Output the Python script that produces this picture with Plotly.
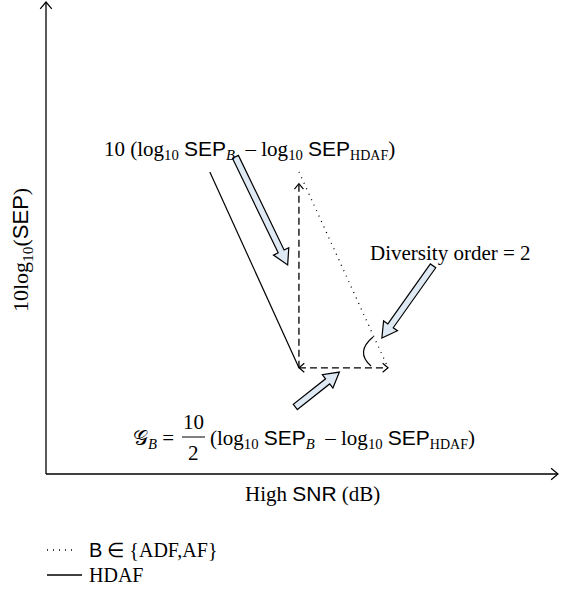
import math
import plotly.graph_objects as go

# ---------------- data (schematic values of the drawing) ----------------
hdaf_snr = [32.0, 49.4]          # HDAF curve: SNR (dB)
hdaf_sep = [64.0, 22.5]          # HDAF curve: 10log10(SEP)
b_snr = [49.4, 66.8]             # B in {ADF, AF} curve
b_sep = [64.0, 22.5]
gain_top = 61.5                  # top of the vertical SEP-difference arrow
legend_labels = ["<span style='font-family:Liberation Sans'>B</span> \u2208 {ADF,AF}", "HDAF"]
axis_max = [100.0, 100.0]

# callout (hollow) arrows: tail -> tip, in drawing units
call_tails = [(37.0, 67.2), (75.6, 44.1), (48.7, 14.2)]
call_tips = [(47.2, 44.3), (65.6, 28.8), (57.3, 21.6)]

# ---------------- layout helpers ----------------
W, H = 568, 590
X0PX, X1PX, Y0PX, Y1PX = 46, 558, 474, 2
SX = (X1PX - X0PX) / axis_max[0]
SY = (Y0PX - Y1PX) / axis_max[1]
xrange_ = [-X0PX / SX, (W - X0PX) / SX]
yrange_ = [-(H - Y0PX) / SY, Y0PX / SY]


def px2d(px, py):
    return ((px - X0PX) / SX, (Y0PX - py) / SY)


def d2px(x, y):
    return (X0PX + x * SX, Y0PX - y * SY)


def path_from_px(pts, close=False):
    s = ""
    for i, (px, py) in enumerate(pts):
        x, y = px2d(px, py)
        s += ("M" if i == 0 else "L") + f"{x:.4f},{y:.4f} "
    if close:
        s += "Z"
    return s


def vhead(tip, direction_px, arm=8.0, ang=40.0):
    tx, ty = d2px(*tip)
    dx, dy = direction_px
    n = math.hypot(dx, dy)
    dx, dy = dx / n, dy / n
    pts = []
    for s in (1, -1):
        a = math.radians(ang) * s
        rx = dx * math.cos(a) - dy * math.sin(a)
        ry = dx * math.sin(a) + dy * math.cos(a)
        pts.append((tx - rx * arm, ty - ry * arm))
    return path_from_px([pts[0], (tx, ty), pts[1]])


def block_arrow(tail, tip, sw=3.3, hw=8.5, hl=15.0):
    tx, ty = d2px(*tail)
    px, py = d2px(*tip)
    dx, dy = px - tx, py - ty
    L = math.hypot(dx, dy)
    dx, dy = dx / L, dy / L
    nx, ny = -dy, dx
    bx, by = px - dx * hl, py - dy * hl
    pts = [
        (tx + nx * sw, ty + ny * sw),
        (bx + nx * sw, by + ny * sw),
        (bx + nx * hw, by + ny * hw),
        (px, py),
        (bx - nx * hw, by - ny * hw),
        (bx - nx * sw, by - ny * sw),
        (tx - nx * sw, ty - ny * sw),
    ]
    return path_from_px(pts, close=True)


SERIF = "Liberation Serif"
SANS = "Liberation Sans"
FS = 21
BLK = "black"
DOT = "1px,5px"

fig = go.Figure()

# curves
fig.add_trace(go.Scatter(x=b_snr, y=b_sep, mode="lines", name="B", showlegend=False,
                         line=dict(color=BLK, width=1.3, dash=DOT)))
fig.add_trace(go.Scatter(x=hdaf_snr, y=hdaf_sep, mode="lines", name="HDAF", showlegend=False,
                         line=dict(color=BLK, width=1.2)))

# dashed measurement arrows
fig.add_trace(go.Scatter(x=[hdaf_snr[1], hdaf_snr[1]], y=[hdaf_sep[1], gain_top], mode="lines",
                         showlegend=False, hoverinfo="skip",
                         line=dict(color=BLK, width=1.3, dash="7px,4px")))
fig.add_trace(go.Scatter(x=[hdaf_snr[1], b_snr[1]], y=[hdaf_sep[1], b_sep[1]], mode="lines",
                         showlegend=False, hoverinfo="skip",
                         line=dict(color=BLK, width=1.3, dash="7px,4px")))

shapes = []
# axes
shapes.append(dict(type="line", xref="x", yref="y", x0=0, y0=0, x1=axis_max[0], y1=0,
                   line=dict(color=BLK, width=1.3)))
shapes.append(dict(type="line", xref="x", yref="y", x0=0, y0=0, x1=0, y1=axis_max[1],
                   line=dict(color=BLK, width=1.3)))
for p in [vhead((axis_max[0], 0), (1, 0), arm=9), vhead((0, axis_max[1]), (0, -1), arm=9),
          vhead((hdaf_snr[1], gain_top), (0, -1), arm=7),
          vhead((b_snr[1], b_sep[1]), (1, 0), arm=7),
          vhead((hdaf_snr[1], hdaf_sep[1]), (-1, 0), arm=7)]:
    shapes.append(dict(type="path", xref="x", yref="y", path=p,
                       line=dict(color=BLK, width=1.2)))

# angle arc
a0 = px2d(373, 337)
ac = px2d(355, 352)
a1 = px2d(371, 366)
shapes.append(dict(type="path", xref="x", yref="y",
                   path=f"M{a0[0]:.3f},{a0[1]:.3f} Q{ac[0]:.3f},{ac[1]:.3f} {a1[0]:.3f},{a1[1]:.3f}",
                   line=dict(color=BLK, width=1.2)))

# hollow callout arrows
for t, p in zip(call_tails, call_tips):
    shapes.append(dict(type="path", xref="x", yref="y", path=block_arrow(t, p),
                       fillcolor="#dfe9f4", line=dict(color=BLK, width=1.2)))

# fraction bar
fb0 = px2d(182, 437)
fb1 = px2d(205, 437)
shapes.append(dict(type="line", xref="x", yref="y", x0=fb0[0], y0=fb0[1], x1=fb1[0], y1=fb1[1],
                   line=dict(color=BLK, width=1)))

# legend keys
LEG_Y = [550, 575]
lg = [(px2d(47, LEG_Y[0]), px2d(77, LEG_Y[0]), DOT), (px2d(47, LEG_Y[1]), px2d(82, LEG_Y[1]), "solid")]
for (p0, p1, dash) in lg:
    shapes.append(dict(type="line", xref="x", yref="y", x0=p0[0], y0=p0[1], x1=p1[0], y1=p1[1],
                       line=dict(color=BLK, width=1.3, dash=dash)))

SEP = f"<span style='font-family:{SANS}'>SEP</span>"
diff = (f"(log<sub>10</sub> {SEP}<sub><i>B</i></sub>&nbsp; \u2013 log<sub>10</sub> {SEP}"
        f"<sub><span style='font-size:14px'>HDAF</span></sub>)")

ann = []


def add_text(text, px, py, xanchor="left", size=FS, angle=0):
    x, y = px2d(px, py)
    ann.append(dict(text=text, x=x, y=y, xref="x", yref="y", xanchor=xanchor, yanchor="middle",
                    showarrow=False, textangle=angle,
                    font=dict(family=SERIF, size=size, color=BLK)))


add_text("10 " + diff, 102, 150)
add_text("Diversity order = 2", 368, 253)
add_text("\U0001D4A2<sub><i>B</i></sub> =", 176, 439, xanchor="right")
add_text("10", 193, 422, xanchor="center")
add_text("2", 193, 453, xanchor="center")
add_text(diff, 208, 439)
add_text(f"High <span style='font-family:{SANS}'>SNR</span> (dB)", 312, 494, xanchor="center")
add_text(f"10log<sub>10</sub>({SEP})", 22, 250, xanchor="center", size=22, angle=-90)
add_text(legend_labels[0], 87, LEG_Y[0], size=20)
add_text(legend_labels[1], 87, LEG_Y[1], size=20)

fig.update_layout(
    width=W, height=H,
    margin=dict(l=0, r=0, t=0, b=0, autoexpand=False),
    paper_bgcolor="white", plot_bgcolor="white",
    xaxis=dict(range=xrange_, visible=False, fixedrange=True),
    yaxis=dict(range=yrange_, visible=False, fixedrange=True),
    shapes=shapes,
    annotations=ann,
    showlegend=False,
)

fig.write_html("out.html", config={"displayModeBar": False},
               post_script="document.body.style.margin='0px';")
